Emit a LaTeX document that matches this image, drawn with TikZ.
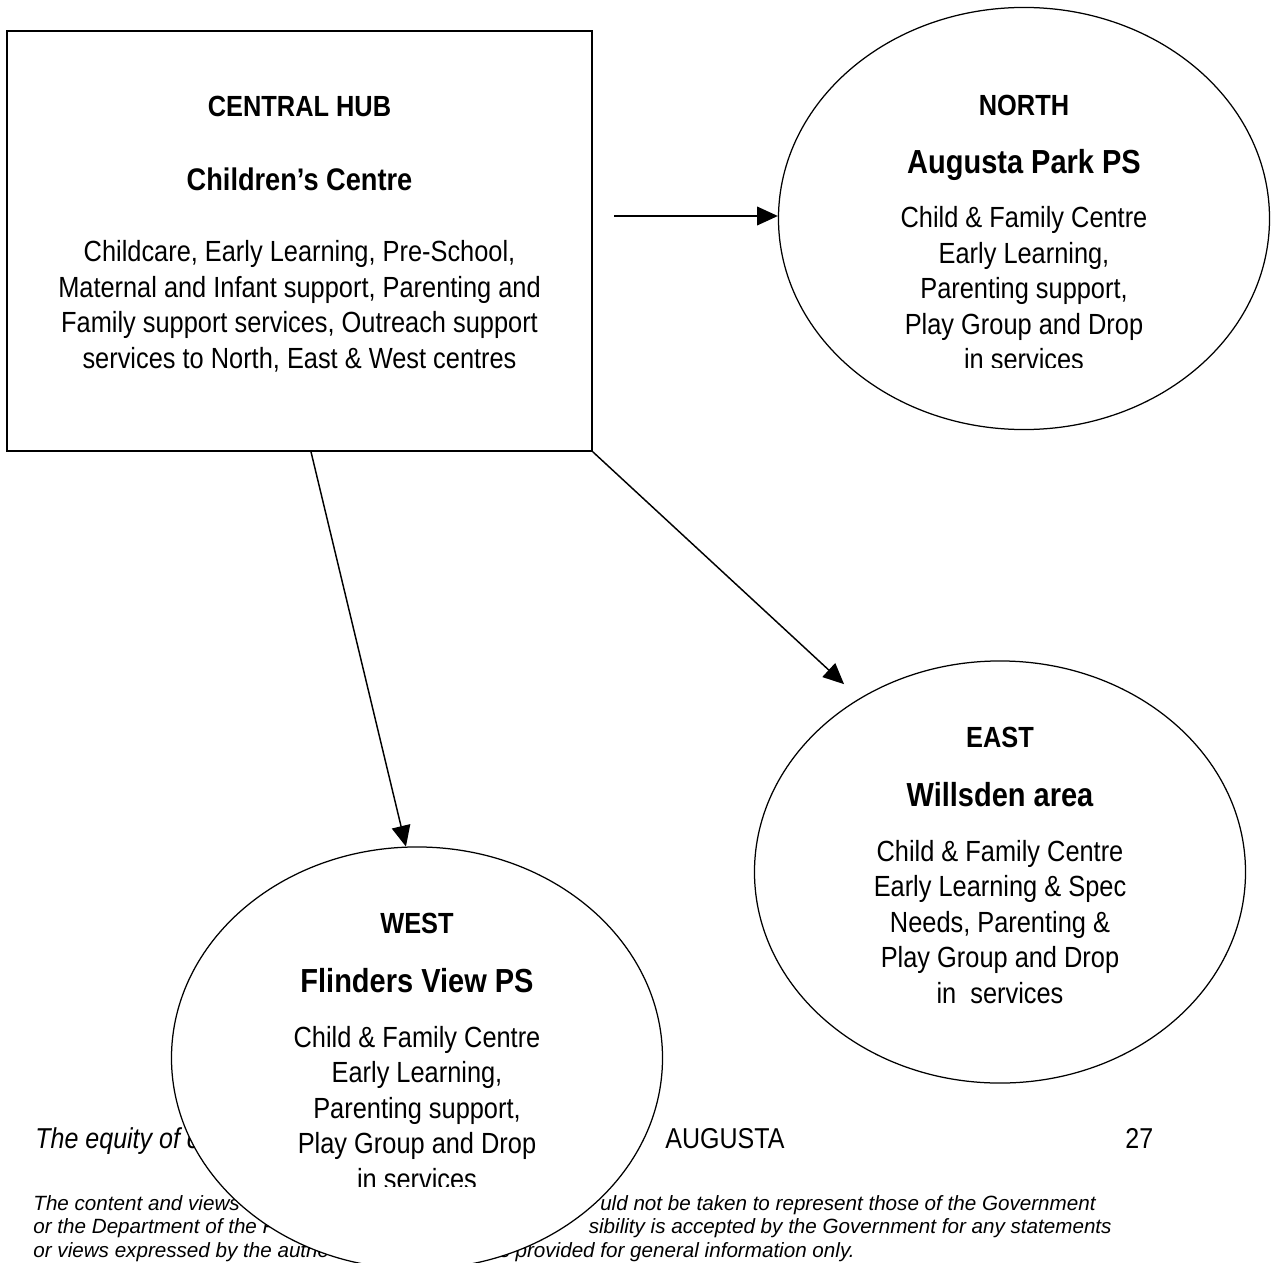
\documentclass[tikz,border=0pt]{standalone}
\usepackage{fontspec}
\setmainfont{Liberation Sans}[FakeStretch=0.87]
\newfontfamily\discfont{Liberation Sans}
\usetikzlibrary{arrows.meta,shapes.geometric,calc}
\begin{document}
\begin{tikzpicture}[x=0.48pt,y=-0.48pt,
  hubbox/.style={draw,line width=0.8pt,rectangle,minimum width=280.8pt,minimum height=201.6pt,inner sep=0pt},
  site/.style={draw,line width=0.6pt,ellipse,fill=white,minimum width=235.7pt,minimum height=202.6pt,inner sep=0pt},
  tag/.style={font=\fontsize{14}{17}\selectfont\bfseries,anchor=base,inner sep=0pt},
  title/.style={font=\fontsize{16}{19}\selectfont\bfseries,anchor=base,inner sep=0pt},
  body/.style={font=\fontsize{14}{17}\selectfont,align=center,anchor=base,inner sep=0pt},
  foot/.style={font=\fontsize{13.8}{16}\selectfont,inner sep=0pt},
  disc/.style={font=\discfont\itshape\fontsize{9.9}{11.3}\selectfont,inner sep=0pt},
  arr/.style={line width=0.7pt,-{Triangle[length=10pt,width=9pt]}}]
\useasboundingbox (0,0) rectangle (1275,1263);
\fill[white] (0,0) rectangle (1275,1263);

% footer (partly covered by the West ellipse)
\node[foot,anchor=base west] (eq) at (35,1148) {\itshape The equity of c};
\node[foot,anchor=base west] (aug) at (665,1148) {AUGUSTA};
\node[foot,anchor=base west] (pg) at (1125,1148) {27};
\node[disc,anchor=base west] (d1l) at (33,1210) {The content and views};
\node[disc,anchor=base east] (d1r) at (1096,1210) {uld not be taken to represent those of the Government};
\node[disc,anchor=base west] (d2l) at (33,1233) {or the Department of the F};
\node[disc,anchor=base east] (d2r) at (1112,1233) {sibility is accepted by the Government for any statements};
\node[disc,anchor=base west] (d3l) at (33,1257) {or views expressed by the autho};
\node[disc,anchor=base east] (d3r) at (855,1257) {s provided for general information only.};

% hub
\node[hubbox] (hub) at (299.5,241) {};
\node[tag] (hubtag) at (299.5,116) {CENTRAL HUB};
\node[font=\fontsize{15}{18}\selectfont\bfseries,anchor=base,inner sep=0pt] (hubname) at (299.5,190) {Children’s Centre};
\node[body] (hubbody) at (299.5,368) {Childcare, Early Learning, Pre-School,\\Maternal and Infant support, Parenting and\\Family support services, Outreach support\\services to North, East \& West centres};

% north
\node[site] (north) at (1024,218.5) {};
\node[tag] (ntag) at (1024,115) {NORTH};
\node[title] (nname) at (1024,173) {Augusta Park PS};
\begin{scope}
\clip (700,0) rectangle (1275,367);
\node[body] (nbody) at (1024,369.5) {Child \& Family Centre\\Early Learning,\\Parenting support,\\Play Group and Drop\\in services};
\end{scope}

% east
\node[site] (east) at (1000,872) {};
\node[tag] (etag) at (1000,747) {EAST};
\node[title] (ename) at (1000,806) {Willsden area};
\node[body] (ebody) at (1000,1003) {Child \& Family Centre\\Early Learning \& Spec\\Needs, Parenting \&\\Play Group and Drop\\in\ \ services};

% west
\node[site] (west) at (417,1058) {};
\node[tag] (wtag) at (417,933) {WEST};
\node[title] (wname) at (417,992) {Flinders View PS};
\begin{scope}
\clip (150,900) rectangle (700,1186);
\node[body] (wbody) at (417,1189) {Child \& Family Centre\\Early Learning,\\Parenting support,\\Play Group and Drop\\in services};
\end{scope}

% connectors
\coordinate (nstart) at (614,216);
\draw[arr] (nstart) -- (nstart -| north.west);
\draw[arr] ($(hub.south)+(11.5,0)$) -- (west.93.5);
\draw[arr,shorten >=10pt] (hub.south east) -- (east.129);
\end{tikzpicture}
\end{document}
